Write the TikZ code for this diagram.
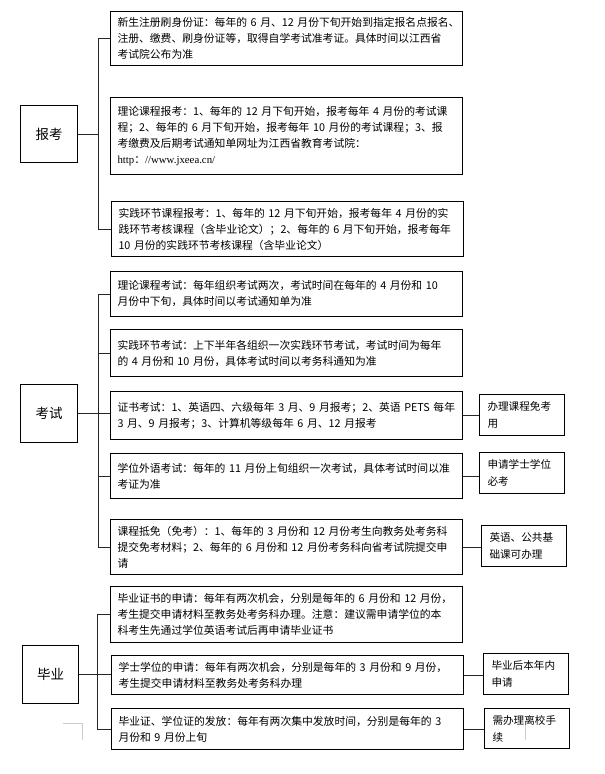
\documentclass[tikz,border=0pt]{standalone}
\usepackage{fontspec}
\setmainfont{Noto Sans CJK SC}
\newfontfamily\urlfont{Liberation Serif}
\begin{document}
\begin{tikzpicture}[x=1pt,y=-1pt,
  mainbox/.style={draw, line width=1pt, anchor=north west, inner xsep=7pt, inner ysep=1pt,
    text width=338pt, minimum width=352pt, align=left, font=\fontsize{10.8}{16}\selectfont},
  sidebox/.style={draw, line width=1pt, anchor=north west, inner xsep=8pt, inner ysep=1pt,
    text width=69pt, minimum width=85pt, align=left, font=\fontsize{10.6}{17}\selectfont},
  labelbox/.style={draw, line width=1pt, anchor=north west, inner sep=0pt, align=center,
    font=\fontsize{13.5}{15}\selectfont},
  link/.style={line width=1pt, black!85},
  ghost/.style={gray!40, line width=0.8pt}
]
\useasboundingbox (0,0) rectangle (605,774);

% ---------- left labels ----------
\node[labelbox, minimum width=57pt, minimum height=57pt] (L1) at (20,105) {报考};
\node[labelbox, minimum width=57pt, minimum height=58pt] (L2) at (20,384) {考试};
\node[labelbox, minimum width=56pt, minimum height=58pt] (L3) at (22,645) {毕业};

% ---------- 报考 ----------
\node[mainbox, minimum height=54pt] (A1) at (110,11) {新生注册刷身份证：每年的~6~月、12~月份下旬开始到指定报名点报名、\\注册、缴费、刷身份证等，取得自学考试准考证。具体时间以江西省\\考试院公布为准};
\node[mainbox, minimum height=77pt] (A2) at (110,97) {理论课程报考：1、每年的~12~月下旬开始，报考每年~4~月份的考试课\\程；2、每年的~6~月下旬开始，报考每年~10~月份的考试课程；3、报\\考缴费及后期考试通知单网址为江西省教育考试院：\\{\urlfont http}：{\urlfont //www.jxeea.cn/}};
\node[mainbox, minimum height=55pt] (A3) at (111,201) {实践环节课程报考：1、每年的~12~月下旬开始，报考每年~4~月份的实\\践环节考核课程（含毕业论文）；2、每年的~6~月下旬开始，报考每年\\10~月份的实践环节考核课程（含毕业论文）};

% ---------- 考试 ----------
\node[mainbox, minimum height=45pt] (B1) at (110,271) {理论课程考试：每年组织考试两次，考试时间在每年的~4~月份和~10\\月份中下旬，具体时间以考试通知单为准};
\node[mainbox, minimum height=47pt] (B2) at (110,329) {实践环节考试：上下半年各组织一次实践环节考试，考试时间为每年\\的~4~月份和~10~月份，具体考试时间以考务科通知为准};
\node[mainbox, minimum height=48pt] (B3) at (110,391) {证书考试：1、英语四、六级每年~3~月、9~月报考；2、英语~PETS~每年\\3~月、9~月报考；3、计算机等级每年~6~月、12~月报考};
\node[mainbox, minimum height=45pt] (B4) at (110,453) {学位外语考试：每年的~11~月份上旬组织一次考试，具体考试时间以准\\考证为准};
\node[mainbox, minimum height=55pt] (B5) at (110,519) {课程抵免（免考）：1、每年的~3~月份和~12~月份考生向教务处考务科\\提交免考材料；2、每年的~6~月份和~12~月份考务科向省考试院提交申\\请};

% ---------- 毕业 ----------
\node[mainbox, minimum height=56pt] (C1) at (110,586) {毕业证书的申请：每年有两次机会，分别是每年的~6~月份和~12~月份，\\考生提交申请材料至教务处考务科办理。注意：建议需申请学位的本\\科考生先通过学位英语考试后再申请毕业证书};
\node[mainbox, minimum height=39pt] (C2) at (111,655) {学士学位的申请：每年有两次机会，分别是每年的~3~月份和~9~月份，\\考生提交申请材料至教务处考务科办理};
\node[mainbox, minimum height=41pt] (C3) at (111,708) {毕业证、学位证的发放：每年有两次集中发放时间，分别是每年的~3\\月份和~9~月份上旬};

% ---------- right boxes ----------
\node[sidebox, minimum height=41pt] (R1) at (479,394) {办理课程免考\\用};
\node[sidebox, minimum height=41pt] (R2) at (479,452) {申请学士学位\\必考};
\node[sidebox, minimum height=41pt] (R3) at (481,525) {英语、公共基\\础课可办理};
\node[sidebox, minimum height=41pt] (R4) at (483,653) {毕业后本年内\\申请};
\node[sidebox, minimum height=40pt] (R5) at (484,708) {需办理离校手\\续};

% ---------- bus coordinates ----------
\coordinate (bx1) at (98,0);
\coordinate (bx2) at (98,0);
\coordinate (bx3) at (97,0);

% 报考 connectors
\draw[link] (A1.west) -- (A1.west -| bx1) -- (A3.west -| bx1) -- (A3.west);
\draw[link] (L1.east) -- (L1.east -| bx1);

% 考试 connectors
\draw[link] (B1.west) -- (B1.west -| bx2) -- (B5.west -| bx2) -- (B5.west);
\draw[link] (B2.west) -- (B2.west -| bx2);
\draw[link] (B4.west) -- (B4.west -| bx2);
\draw[link] (L2.east) -- (L2.east -| B3.west);

% 毕业 connectors
\draw[link] (C1.west) -- (C1.west -| bx3) -- (C3.west -| bx3) -- (C3.west);
\draw[link] (L3.east) -- (L3.east -| C2.west);

% right connectors
\draw[link] (B3.east) -- (B3.east -| R1.west);
\draw[link] (B4.east) -- (B4.east -| R2.west);
\draw[link] (B5.east) -- (B5.east -| R3.west);
\draw[link] (C2.east) -- (C2.east -| R4.west);
\draw[link] (C3.east) -- (C3.east -| R5.west);

% faint page marks
\draw[ghost] (63,723) -- (82,723) -- (82,740);
\draw[ghost] (525,725) -- (525,740);
\end{tikzpicture}
\end{document}
